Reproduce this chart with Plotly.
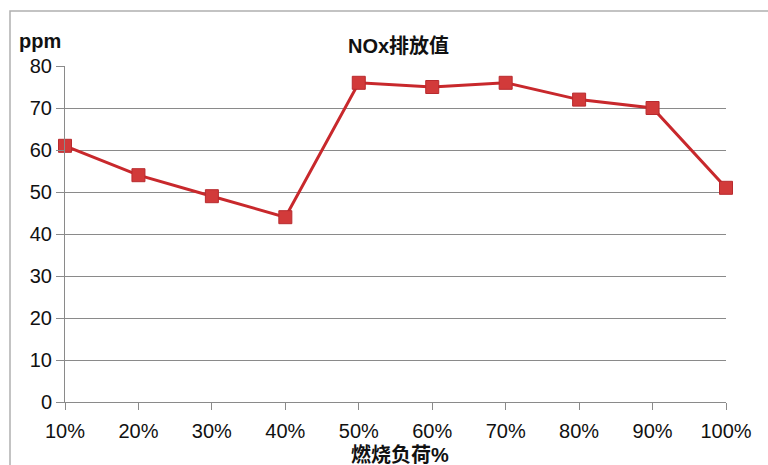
import plotly.graph_objects as go

# Combustion load categories and NOx emission (ppm)
loads = ["10%", "20%", "30%", "40%", "50%", "60%", "70%", "80%", "90%", "100%"]
nox_ppm = [61, 54, 49, 44, 76, 75, 76, 72, 70, 51]
y_ticks = [0, 10, 20, 30, 40, 50, 60, 70, 80]

chart_title = "NOx排放值"
y_unit = "ppm"
x_title = "燃烧负荷%"

FONT = "Liberation Sans, Arial, Noto Sans CJK SC, sans-serif"

W, H = 768, 465
L, R, T, B = 65, 42, 66, 63
pw, ph = W - L - R, H - T - B


def px_x(p):
    return (p - L) / pw


def px_y(p):
    return (H - B - p) / ph


fig = go.Figure()
fig.add_trace(go.Scatter(
    x=list(range(len(loads))),
    y=nox_ppm,
    mode="lines+markers",
    line=dict(color="#c8282c", width=3),
    marker=dict(symbol="square", size=13, color="#d23a3a",
                line=dict(color="#b82a2e", width=1)),
    cliponaxis=False,
    showlegend=False,
))

fig.update_layout(
    width=W, height=H,
    margin=dict(l=L, r=R, t=T, b=B),
    paper_bgcolor="white",
    plot_bgcolor="white",
    font=dict(family=FONT, size=20, color="#111111"),
    xaxis=dict(
        range=[0, len(loads) - 1],
        tickmode="array",
        tickvals=list(range(len(loads))),
        ticktext=loads,
        showgrid=False,
        zeroline=False,
        showline=True,
        linecolor="#8a8a8a",
        linewidth=1,
        ticks="outside",
        ticklen=7,
        tickcolor="#8a8a8a",
        ticklabelstandoff=4,
        tickfont=dict(size=20, family=FONT, color="#111111"),
        fixedrange=True,
    ),
    yaxis=dict(
        range=[0, 80],
        tickmode="array",
        tickvals=y_ticks,
        showgrid=True,
        gridcolor="#8a8a8a",
        gridwidth=1,
        zeroline=False,
        showline=True,
        linecolor="#8a8a8a",
        linewidth=1,
        ticks="outside",
        ticklen=8,
        tickcolor="#8a8a8a",
        tickfont=dict(size=20, family=FONT, color="#111111"),
        fixedrange=True,
    ),
    shapes=[
        dict(type="rect", xref="paper", yref="paper",
             x0=px_x(10), x1=px_x(800), y0=px_y(520), y1=px_y(11),
             line=dict(color="#b0b0b0", width=1.5), fillcolor="rgba(0,0,0,0)",
             layer="below"),
    ],
    annotations=[
        dict(text="<b>" + chart_title + "</b>", xref="paper", yref="paper",
             x=px_x(398), y=px_y(46), xanchor="center", yanchor="middle",
             showarrow=False, font=dict(size=20, family=FONT, color="#111111")),
        dict(text="<b>" + y_unit + "</b>", xref="paper", yref="paper",
             x=px_x(17), y=px_y(41), xanchor="left", yanchor="middle",
             showarrow=False, font=dict(size=20, family=FONT, color="#111111")),
        dict(text="<b>" + x_title + "</b>", xref="paper", yref="paper",
             x=px_x(400), y=px_y(455), xanchor="center", yanchor="middle",
             showarrow=False, font=dict(size=20, family=FONT, color="#111111")),
    ],
)

fig.write_html("out.html")
